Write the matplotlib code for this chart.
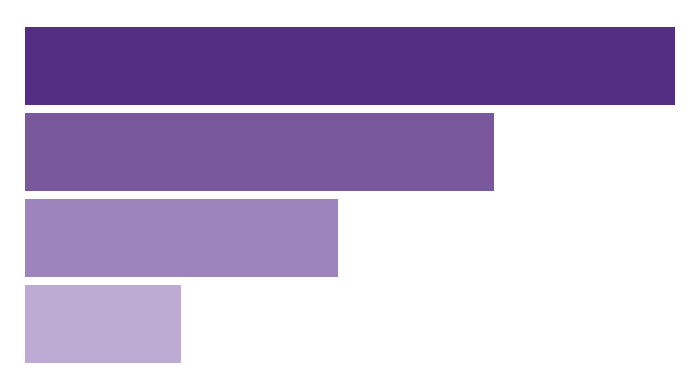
import matplotlib.pyplot as plt

# values (longest bar = 100)
categories = ["A", "B", "C", "D"]
values = [100, 72.2, 48.2, 24.0]
colors = ["#542e83", "#7a589c", "#9d84bd", "#bcaad2"]


def main():
    fig = plt.figure(figsize=(7, 3.9), dpi=100)
    ax = fig.add_axes([25 / 700, 27 / 390, 650 / 700, 336 / 390])
    ax.barh(range(len(categories)), values, height=0.9, color=colors)
    ax.set_xlim(0, 100)
    ax.set_ylim(3.45, -0.45)
    ax.axis("off")
    fig.savefig("out.png", dpi=100, facecolor="white")


if __name__ == "__main__":
    main()
